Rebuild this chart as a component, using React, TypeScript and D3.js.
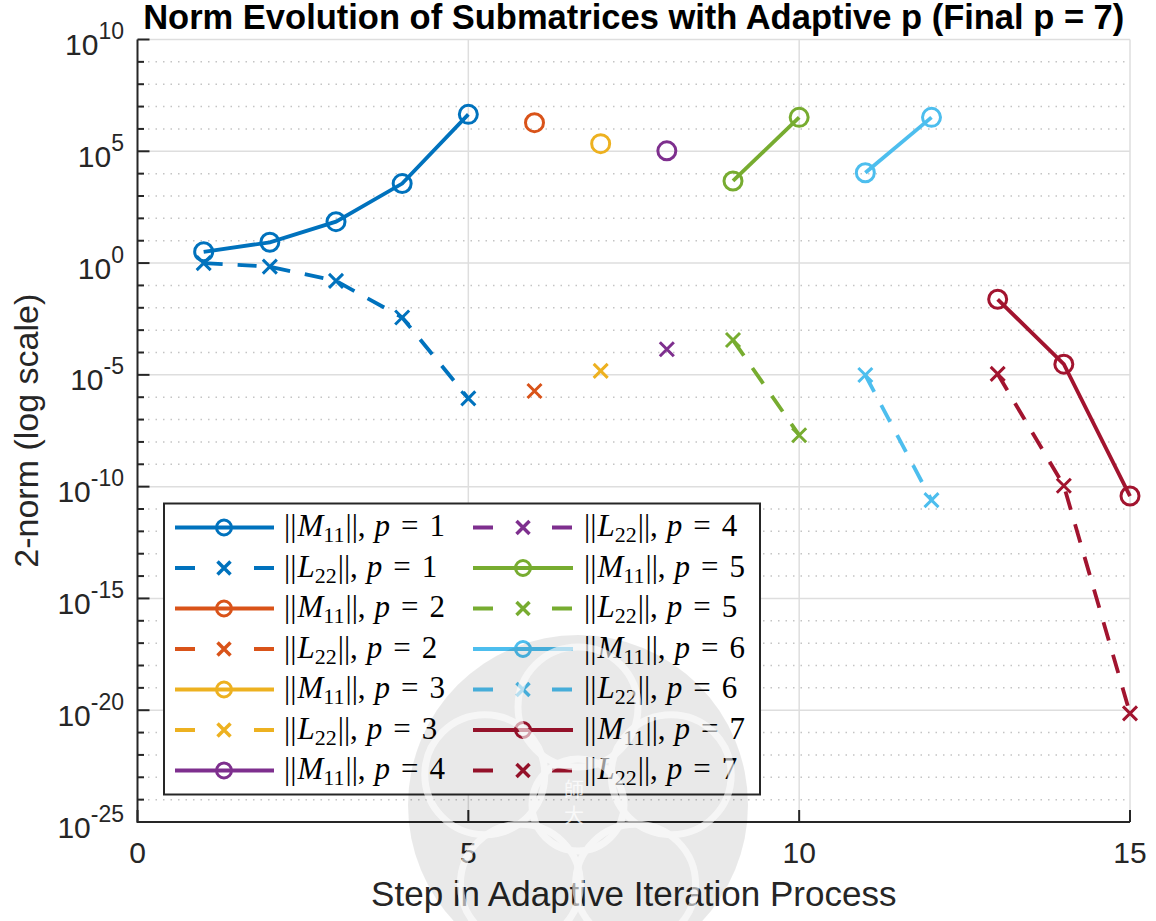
import React from "react";
import * as d3 from "d3";

// Figure size
const W = 1156;
const H = 921;

// Adaptive iteration data: for each block size p, the steps it covers and the
// 2-norms of the M11 and L22 submatrices at those steps.
const pValues = [1, 2, 3, 4, 5, 6, 7];
const seriesColors = ["#0072BD", "#D95319", "#EDB120", "#7E2F8E", "#77AC30", "#4DBEEE", "#A2142F"];
const stepsByP = [[1, 2, 3, 4, 5], [6], [7], [8], [9, 10], [11, 12], [13, 14, 15]];
const m11ByP = [
  [3.2, 8.5, 71, 3600, 4.5e6],
  [1.9e6],
  [2.2e5],
  [1.05e5],
  [4.7e3, 3.3e6],
  [1.1e4, 3.3e6],
  [2.4e-2, 3.0e-5, 3.8e-11],
];
const l22ByP = [
  [1.0, 0.69, 0.16, 3.7e-3, 8.9e-7],
  [1.9e-6],
  [1.5e-5],
  [1.4e-4],
  [3.6e-4, 2.0e-8],
  [9.8e-6, 2.5e-11],
  [1.1e-5, 1.1e-10, 7.2e-21],
];

// Axis ticks
const xTicks = [0, 5, 10, 15];
const yMajorExponents = [10, 5, 0, -5, -10, -15, -20, -25];
const yMinorExponents = d3.range(-25, 11).filter((e) => e % 5 !== 0);

const titleText = "Norm Evolution of Submatrices with Adaptive p (Final p = 7)";
const xLabel = "Step in Adaptive Iteration Process";
const yLabel = "2-norm (log scale)";

const AXIS = "#262626";
const SANS = "'Liberation Sans', Arial, sans-serif";
const SERIF = "'Liberation Serif', 'Times New Roman', serif";

const x = d3.scaleLinear().domain([0, 15]).range([137.5, 1130]);
const y = d3.scaleLog().domain([1e-25, 1e10]).range([822, 39.5]);

const line = d3
  .line<[number, number]>()
  .x((d) => x(d[0]))
  .y((d) => y(d[1]));

type Series = { p: number; color: string; kind: "M" | "L"; pts: [number, number][] };

const series: Series[] = [];
pValues.forEach((p, i) => {
  series.push({ p, color: seriesColors[i], kind: "M", pts: stepsByP[i].map((s, j) => [s, m11ByP[i][j]]) });
  series.push({ p, color: seriesColors[i], kind: "L", pts: stepsByP[i].map((s, j) => [s, l22ByP[i][j]]) });
});

function CircleMark({ cx, cy, r, color }: { cx: number; cy: number; r: number; color: string }) {
  return <circle cx={cx} cy={cy} r={r} fill="none" stroke={color} strokeWidth={3} />;
}

function CrossMark({ cx, cy, s, color, w = 3 }: { cx: number; cy: number; s: number; color: string; w?: number }) {
  return (
    <path
      d={`M${cx - s},${cy - s}L${cx + s},${cy + s}M${cx - s},${cy + s}L${cx + s},${cy - s}`}
      stroke={color}
      strokeWidth={w}
      fill="none"
    />
  );
}

// Legend entry text in math style: ||M_11||, p = 1
function NormLabel({ kind, p, tx, ty }: { kind: "M" | "L"; p: number; tx: number; ty: number }) {
  const sym = kind === "M" ? "M" : "L";
  const sub = kind === "M" ? "11" : "22";
  return (
    <text x={tx} y={ty} fontFamily={SERIF} fontSize={31} fill="#000">
      <tspan>||</tspan>
      <tspan fontStyle="italic" dx={1}>{sym}</tspan>
      <tspan fontSize={22} dy={6}>{sub}</tspan>
      <tspan dy={-6} dx={1}>||,</tspan>
      <tspan fontStyle="italic" dx={9}>p</tspan>
      <tspan dx={11}>=</tspan>
      <tspan dx={11}>{String(p)}</tspan>
    </text>
  );
}

function Watermark() {
  const cx = 578;
  const cy = 805;
  const R = 170;
  const lobes = d3.range(5).map((k) => {
    const a = (k * 72 - 90) * (Math.PI / 180);
    return { x: cx + 98 * Math.cos(a), y: cy + 98 * Math.sin(a) };
  });
  return (
    <g pointerEvents="none">
      <defs>
        <clipPath id="seal-clip">
          <circle cx={cx} cy={cy} r={R - 6} />
        </clipPath>
      </defs>
      <circle cx={cx} cy={cy} r={R} fill="#000" opacity={0.085} />
      <g clipPath="url(#seal-clip)" stroke="#fff" strokeWidth={7} fill="none" opacity={0.6}>
        <circle cx={cx} cy={cy} r={46} />
        {lobes.map((d, i) => (
          <circle key={i} cx={d.x} cy={d.y} r={60} />
        ))}
      </g>
      <g fontFamily="'Noto Sans CJK TC', sans-serif" fontSize={20} fill="#fff" opacity={0.75} textAnchor="middle">
        <text x={cx - 4} y={cy - 8}>師</text>
        <text x={cx - 4} y={cy + 18}>大</text>
      </g>
    </g>
  );
}

export default function App() {
  const [x0, x1] = x.range();
  const [y0, y1] = y.range();

  const legendRow0 = 527.5;
  const legendRowStep = 40.5;
  const legendCols = [
    { lineStart: 175, lineEnd: 274, mark: 224, text: 284 },
    { lineStart: 473, lineEnd: 573, mark: 523, text: 584 },
  ];

  return (
    <svg width={W} height={H} style={{ display: "block", position: "absolute", left: 0, top: 0, background: "#fff" }}>
      <rect x={0} y={0} width={W} height={H} fill="#fff" />

      {/* minor grid */}
      <g stroke="#c4c4c4" strokeWidth={1.5} strokeDasharray="1.5 6">
        {yMinorExponents.map((e) => (
          <line key={e} x1={x0 + 3} x2={x1} y1={y(Math.pow(10, e))} y2={y(Math.pow(10, e))} />
        ))}
      </g>
      {/* major grid */}
      <g stroke="#dedede" strokeWidth={1.5}>
        {yMajorExponents
          .filter((e) => e !== -25)
          .map((e) => (
            <line key={e} x1={x0} x2={x1} y1={y(Math.pow(10, e))} y2={y(Math.pow(10, e))} />
          ))}
        {xTicks
          .filter((t) => t !== 0)
          .map((t) => (
            <line key={t} x1={x(t)} x2={x(t)} y1={y0} y2={y1} />
          ))}
      </g>

      {/* series */}
      {series.map((s, i) => (
        <g key={i}>
          {s.pts.length > 1 && (
            <path
              d={line(s.pts) || ""}
              fill="none"
              stroke={s.color}
              strokeWidth={3.8}
              strokeDasharray={s.kind === "L" ? "19 15" : undefined}
            />
          )}
          {s.pts.map((d, j) =>
            s.kind === "M" ? (
              <CircleMark key={j} cx={x(d[0])} cy={y(d[1])} r={9} color={s.color} />
            ) : (
              <CrossMark key={j} cx={x(d[0])} cy={y(d[1])} s={7} color={s.color} />
            )
          )}
        </g>
      ))}

      {/* axes */}
      <g stroke={AXIS} strokeWidth={2} fill="none">
        <line x1={x0} x2={x0} y1={y0 + 1} y2={y1} />
        <line x1={x0} x2={x1} y1={y0} y2={y0} />
        {yMajorExponents.map((e) => (
          <line key={e} x1={x0} x2={x0 + 12} y1={y(Math.pow(10, e))} y2={y(Math.pow(10, e))} />
        ))}
        {yMinorExponents.map((e) => (
          <line key={e} x1={x0} x2={x0 + 6.5} y1={y(Math.pow(10, e))} y2={y(Math.pow(10, e))} />
        ))}
        {xTicks.map((t) => (
          <line key={t} x1={x(t)} x2={x(t)} y1={y0} y2={y0 - 12} />
        ))}
      </g>

      {/* tick labels */}
      <g fontFamily={SANS} fill={AXIS}>
        {yMajorExponents.map((e) => (
          <text key={e} x={124} y={y(Math.pow(10, e)) + 15.5} textAnchor="end" fontSize={30}>
            <tspan>10</tspan>
            <tspan fontSize={23} dy={-16}>{String(e)}</tspan>
          </text>
        ))}
        {xTicks.map((t) => (
          <text key={t} x={x(t)} y={863} textAnchor="middle" fontSize={30}>
            {t}
          </text>
        ))}
      </g>

      {/* labels and title */}
      <text x={(x0 + x1) / 2} y={906} textAnchor="middle" fontFamily={SANS} fontSize={35} fill={AXIS}>
        {xLabel}
      </text>
      <text
        transform={`translate(38, ${(y0 + y1) / 2}) rotate(-90)`}
        textAnchor="middle"
        fontFamily={SANS}
        fontSize={34}
        fill={AXIS}
      >
        {yLabel}
      </text>
      <text x={(x0 + x1) / 2} y={29} textAnchor="middle" fontFamily={SANS} fontWeight="bold" fontSize={34.5} fill="#000">
        {titleText}
      </text>

      {/* legend */}
      <g>
        <rect x={164} y={503.5} width={596} height={291} fill="#fff" stroke={AXIS} strokeWidth={2} />
        {series.map((s, i) => {
          const col = legendCols[Math.floor(i / 7)];
          const ry = legendRow0 + (i % 7) * legendRowStep;
          return (
            <g key={i}>
              <line
                x1={col.lineStart}
                x2={col.lineEnd}
                y1={ry}
                y2={ry}
                stroke={s.color}
                strokeWidth={3.8}
                strokeDasharray={s.kind === "L" ? "20 59 20" : undefined}
              />
              {s.kind === "M" ? (
                <CircleMark cx={col.mark} cy={ry} r={7.5} color={s.color} />
              ) : (
                <CrossMark cx={col.mark} cy={ry} s={6.5} color={s.color} w={3.5} />
              )}
              <NormLabel kind={s.kind} p={s.p} tx={col.text} ty={ry + 8.5} />
            </g>
          );
        })}
      </g>

      <Watermark />
    </svg>
  );
}
